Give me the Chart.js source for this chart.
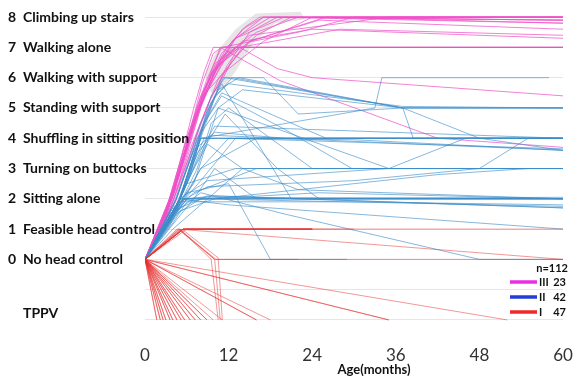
<!DOCTYPE html>
<html>
<head>
<meta charset="utf-8">
<title>Motor milestones</title>
<style>
  body { margin: 0; background: #fff; }
  .wrap { width: 585px; height: 376px; position: relative; }
</style>
</head>
<body>
<div class="wrap"><canvas id="myChart"></canvas></div>
<script src="https://cdn.jsdelivr.net/npm/chart.js"></script>
<script>
// milestone levels, top to bottom
const levels = [8, 7, 6, 5, 4, 3, 2, 1, 0];
const levelNames = ['Climbing up stairs', 'Walking alone', 'Walking with support', 'Standing with support',
  'Shuffling in sitting position', 'Turning on buttocks', 'Sitting alone', 'Feasible head control', 'No head control'];
const tppvLevel = -2;
const tppvName = 'TPPV';
const monthTicks = [0, 12, 24, 36, 48, 60];

// groups: name, patient count
const groupNames = ['III', 'II', 'I'];
const groupCounts = [23, 42, 47];
const totalN = 112;

// each patient: [month, level] points
const pathsIII = [
  [[0,0],[2.5,1.2],[5,3.2],[7,5],[8.5,6.2],[9.8,7],[60,7]],
  [[0,0],[3,1.6],[5.5,3.6],[8,5.4],[10.5,6.5],[12.5,7],[60,7]],
  [[0,0],[3.5,1.8],[6.5,4.2],[9,5.8],[11.5,6.9],[14,7.6],[17,8],[60,8]],
  [[0,0],[3,1.4],[6,3.8],[8.5,5.6],[11,6.8],[14.5,7.7],[16.5,8],[60,7.9]],
  [[0,0],[4,2.1],[7,4.6],[9.5,6.1],[13,7.3],[18,8],[60,7.8]],
  [[0,0],[3.2,1.7],[6,4],[8.8,5.9],[11,7],[22,7.5],[30,8],[60,8]],
  [[0,0],[4.2,2.2],[7.5,4.8],[10.5,6.4],[15,7.2],[25,7.9],[60,7.6]],
  [[0,0],[3,1.5],[5.5,3.4],[7.8,5.2],[10.2,6.5],[13.6,7],[19,6.3],[24,6],[60,5.4]],
  [[0,0],[3.4,1.8],[6,3.8],[8.5,5.6],[10.8,7],[19.4,5.9],[42,4],[60,3.7]],
  [[0,0],[4.6,2.6],[8,5.1],[11.5,6.7],[16,7.5],[22,8],[60,8]],
  [[0,0],[2.6,1.1],[5.2,3],[7.6,4.9],[10,6.2],[13,7],[60,7]],
  [[0,0],[3.8,1.9],[7,4.5],[9.8,6.1],[12.5,7.2],[17,8],[60,8]],
  [[0,0],[3.1,1.5],[6.5,4.2],[9.4,5.9],[13,7.3],[20,8],[60,7.9]],
  [[0,0],[4.2,2.4],[7,4.4],[9.6,6.2],[13.5,7],[28,7.6],[60,7.4]],
  [[0,0],[3.6,2],[6.2,4],[8.2,5.8],[9.8,6.8],[11,7],[60,7]],
  [[0,0],[5,2.8],[8.5,5.4],[12,6.8],[15,7.4],[35,8],[60,8]],
  [[0,0],[4,2.1],[7.2,4.7],[10.4,6.4],[14,7.2],[24,7.6],[60,7.3]],
  [[0,0],[3,1.5],[5.8,3.6],[8.3,5.4],[11.5,6.2],[17,7.2],[24,8],[60,8]],
  [[0,0],[4.4,1.9],[7.5,4],[10,5.4],[12.5,6.6],[16,7.4],[21,8],[60,8]],
  [[0,0],[3.6,1.7],[6.5,3.5],[9.2,5.2],[11.5,6.2],[14,7],[60,7]],
  [[0,0],[2.4,1],[5,2.5],[7.8,4.4],[10.6,6],[15,7.2],[26,8],[60,7.8]],
  [[0,0],[4.8,2.5],[8,5],[11,6.7],[13,7],[60,7]],
  [[0,0],[3.3,1.4],[6.4,3.6],[9,5.1],[11.8,6.4],[15,7.5],[19,8],[60,7.9]]
];

const pathsII = [
  [[0,0],[4,1.5],[6.5,3],[8,4],[33,5],[34,6],[58,6]],
  [[0,0],[5,2],[7.5,3.8],[9.5,5.4],[11.5,6],[37,5],[60,5]],
  [[0,0],[4,1.8],[7,3.6],[9.5,5.2],[12.5,6],[37,5],[38.5,4],[60,4]],
  [[0,0],[5,2],[8,4.2],[10.5,5.6],[13.5,6],[37,5],[48,4],[60,3.6]],
  [[0,0],[4.5,1.7],[7.5,3.8],[10,5.4],[12,5.8],[37,5.05],[60,5]],
  [[0,0],[4,1.5],[6,2.5],[8,4],[60,4]],
  [[0,0],[5,2],[7,3.2],[8.5,4],[60,4]],
  [[0,0],[4.5,1.6],[6.5,3],[8,4],[30,3.95],[60,3.6]],
  [[0,0],[5,2],[7.5,3.5],[9.5,4.1],[60,3.6]],
  [[0,0],[4,1.7],[7,3.6],[10,4.2],[20,4],[60,4]],
  [[0,0],[5.5,2],[8,3],[12,4],[60,3.65]],
  [[0,0],[5,2],[8.5,4.5],[11,5.4],[20,4.3],[29.7,3],[60,3]],
  [[0,0],[4.5,2],[7.5,4],[10.5,5],[35,3],[46,4],[60,4]],
  [[0,0],[5,1.9],[9,2.4],[30,2.6],[48,3],[55,4],[60,4]],
  [[0,0],[5,2],[9,2.6],[35,3],[60,3]],
  [[0,0],[4,1.5],[7,2.2],[16,3],[60,3]],
  [[0,0],[5,2],[60,2]],
  [[0,0],[5.5,2],[9,2.05],[60,2]],
  [[0,0],[4,1.6],[9,2.1],[60,1.7]],
  [[0,0],[6,2],[10,2.1],[60,1.7]],
  [[0,0],[5,1.9],[9,2],[25,2.2],[60,2]],
  [[0,0],[4.5,1.5],[8,2],[60,1.75]],
  [[0,0],[5,2],[12,1.8],[60,1]],
  [[0,0],[4,1.5],[8,2.2],[20,1.5],[48,0],[60,0]],
  [[0,0],[6,2.2],[12,2.5],[18,0],[29,0]],
  [[0,0],[4.5,2],[8,4.5],[11,5.8],[21,2],[60,2]],
  [[0,0],[4,1.4],[6.5,2.8],[8.5,4.5],[11,5.5],[26,4],[60,4]],
  [[0,0],[5,2],[8,4],[11,6],[17,6],[22,4.8],[37,5],[60,5]],
  [[0,0],[3.5,1.2],[6,2.5],[13,3],[60,3]],
  [[0,0],[4,1],[9,2],[14,3],[22,2.3],[60,2]],
  [[0,0],[4.5,1.3],[7,2],[10,3],[16,2],[60,2]],
  [[0,0],[5,2],[8,3.5],[11.5,4.8],[19,3],[25,2],[60,2]],
  [[0,0],[4,1.5],[7,3],[9,3.8],[14,3],[60,3]],
  [[0,0],[5,1.8],[8,2.6],[13,4],[60,4]],
  [[0,0],[4.5,1.6],[7.5,3],[9.5,4.5],[12,5],[24,3],[60,3]],
  [[0,0],[5,1.6],[10,2],[42,2.8],[55,3],[60,3]],
  [[0,0],[3.5,1.1],[5.5,2],[60,2.05]],
  [[0,0],[4,1.2],[6,1.9],[30,1.9],[60,1.8]],
  [[0,0],[5,2],[8,3.6],[10,4.4],[60,4]],
  [[0,0],[4.5,1.8],[7,2.5],[10.5,5],[14,5.6],[37,5],[60,5]],
  [[0,0],[4,1.4],[6,2],[60,2]],
  [[0,0],[5,1.7],[8,3],[16,4],[60,4]]
];

// several patients share the same path, so some fan lines repeat exactly
const pathsI = [
  [[0,0],[1.7,-2]], [[0,0],[2.2,-2]], [[0,0],[2.6,-2]], [[0,0],[3.0,-2]], [[0,0],[3.6,-2]],
  [[0,0],[4.0,-2]], [[0,0],[4.6,-2]], [[0,0],[5.2,-2]], [[0,0],[5.7,-2]], [[0,0],[6.5,-2]],
  [[0,0],[7.2,-2]], [[0,0],[8.0,-2]], [[0,0],[8.9,-2]], [[0,0],[9.8,-2]], [[0,0],[11.1,-2]],
  [[0,0],[2.2,-2]], [[0,0],[3.0,-2]], [[0,0],[4.0,-2]], [[0,0],[5.2,-2]], [[0,0],[6.5,-2]],
  [[0,0],[8.0,-2]], [[0,0],[2.6,-2]], [[0,0],[3.6,-2]], [[0,0],[4.6,-2]], [[0,0],[5.7,-2]],
  [[0,0],[7.2,-2]], [[0,0],[8.9,-2]], [[0,0],[1.7,-2]],
  [[0,0],[16,-2]], [[0,0],[18,-2]], [[0,0],[16,-2]],
  [[0,0],[35,-2]], [[0,0],[52,-2]], [[0,0],[35,-2]],
  [[0,0],[5.5,1],[24,1]], [[0,0],[5.5,1],[24,1]], [[0,0],[5.5,1],[24,1]],
  [[0,0],[5.5,1],[24,1]], [[0,0],[5.5,1],[24,1]],
  [[0,0],[5.5,1],[60,1]], [[0,0],[6,1],[30,1]],
  [[0,0],[4.6,1],[60,0]],
  [[0,0],[5,0.95],[10,0],[10.8,-2]], [[0,0],[5.3,1],[10.5,0.05],[11.1,-2]],
  [[0,0],[5,1],[9.5,0],[10.5,-2]],
  [[0,0],[5,1],[10,0],[22,0]],
  [[0,0],[4.8,1],[10.2,0],[60,0]]
];

// shaded range near the top
const bandOutline = [[8.6,6.1],[10.1,6.8],[13,7.6],[15.9,8.12],[22.3,8.18],[23,7.92],[18.7,7.8],[15.4,7.1],[13,6.2],[11,5.6],[9.5,5.5]];

const groupLineColors = ['rgba(238,80,200,0.72)', 'rgba(60,140,200,0.62)', 'rgba(232,50,50,0.5)'];
const groupLegendColors = ['#ea2ee6', '#1f3fd8', '#f02a2a'];
const allPaths = [pathsIII, pathsII, pathsI];

const datasets = [];
// red first, then blue, then magenta on top
[2, 1, 0].forEach(g => {
  allPaths[g].forEach(p => {
    datasets.push({
      data: p.map(([x, y]) => ({x, y})),
      borderColor: groupLineColors[g],
      borderWidth: 1,
      pointRadius: 0,
      fill: false,
      tension: 0,
      order: 5 - g
    });
  });
});
datasets.push({
  data: bandOutline.map(([x, y]) => ({x, y})),
  borderColor: 'rgba(0,0,0,0)',
  borderWidth: 0,
  backgroundColor: 'rgba(200,200,200,0.45)',
  pointRadius: 0,
  fill: 'shape',
  order: 20
});

const textPlugin = {
  id: 'textPlugin',
  afterDatasetsDraw(chart) {
    const {ctx, scales: {x, y}} = chart;
    ctx.save();
    ctx.fillStyle = '#111';
    ctx.textBaseline = 'middle';
    ctx.font = 'bold 14px Lato';
    levels.forEach((lv, i) => {
      const py = y.getPixelForValue(lv);
      ctx.textAlign = 'left';
      ctx.fillText(String(lv), 8, py);
      ctx.fillText(levelNames[i], 23, py);
    });
    ctx.fillText(tppvName, 23, y.getPixelForValue(tppvLevel) - 6);

    // axis title
    ctx.textAlign = 'center';
    ctx.font = 'bold 13px Lato';
    ctx.fillText('Age(months)', 374, 370);

    // legend
    ctx.font = 'bold 11px Lato';
    ctx.textAlign = 'right';
    ctx.fillText('n=' + totalN, 568, 268);
    groupNames.forEach((name, i) => {
      const ly = 282 + i * 15;
      ctx.strokeStyle = groupLegendColors[i];
      ctx.lineWidth = 3.5;
      ctx.beginPath();
      ctx.moveTo(510, ly);
      ctx.lineTo(537, ly);
      ctx.stroke();
      ctx.textAlign = 'left';
      ctx.fillText(name, 539, ly);
      ctx.textAlign = 'right';
      ctx.fillText(String(groupCounts[i]), 566, ly);
    });
    ctx.restore();
  }
};

new Chart(document.getElementById('myChart'), {
  type: 'line',
  data: { datasets: datasets },
  options: {
    responsive: true,
    maintainAspectRatio: false,
    animation: false,
    layout: { padding: { left: 145, right: 22, top: 5, bottom: 0 } },
    plugins: { legend: { display: false }, tooltip: { enabled: false } },
    scales: {
      x: {
        type: 'linear',
        min: 0, max: 60,
        afterBuildTicks: s => { s.ticks = monthTicks.map(v => ({value: v})); },
        afterFit: s => { s.height = 50; },
        grid: { display: false },
        border: { display: false },
        ticks: { font: { family: 'Lato', size: 17 }, color: '#333', padding: 11 }
      },
      y: {
        type: 'linear',
        min: -2.2, max: 8.4,
        afterBuildTicks: s => { s.ticks = [-2, -1, 0, 1, 2, 3, 4, 5, 6, 7, 8].map(v => ({value: v})); },
        afterFit: s => { s.width = 0; },
        grid: { color: '#e6e6e6', drawTicks: false },
        border: { display: false },
        ticks: { display: false }
      }
    }
  },
  plugins: [textPlugin]
});
</script>
</body>
</html>
